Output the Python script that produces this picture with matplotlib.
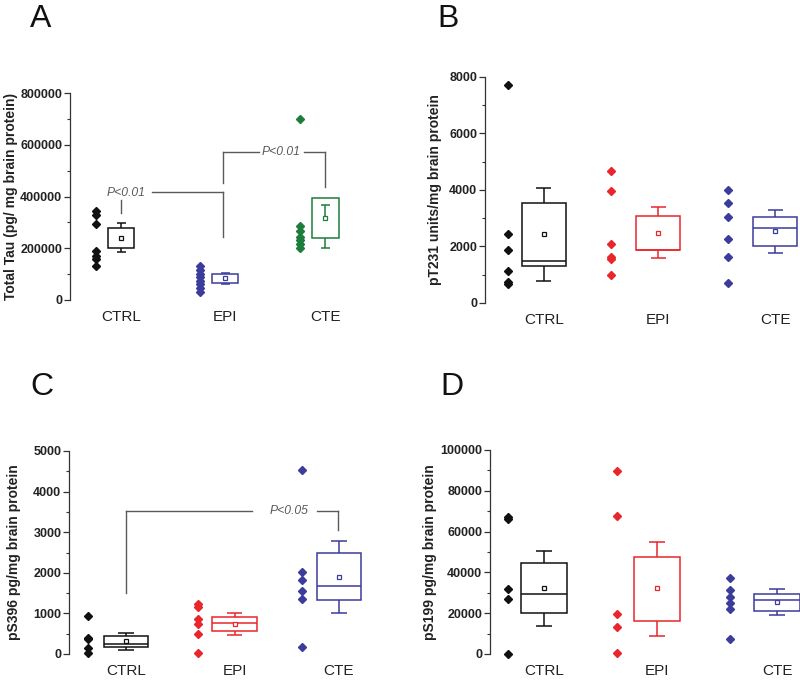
import numpy as np
import matplotlib
matplotlib.use('Agg')
import matplotlib.pyplot as plt
from matplotlib.ticker import MultipleLocator

plt.rcParams['font.family'] = ['Liberation Sans', 'DejaVu Sans']

groups = ['CTRL', 'EPI', 'CTE']

# panel A - total tau
a_points = [
    [345000, 330000, 295000, 190000, 170000, 160000, 130000],
    [130000, 115000, 100000, 88000, 75000, 60000, 45000, 32000],
    [700000, 285000, 265000, 245000, 230000, 215000, 200000],
]
a_q1 = [201000, 66000, 240000]
a_q3 = [278000, 100000, 395000]
a_med = [None, None, None]
a_wlo = [185000, 63000, 200000]
a_whi = [298000, 105000, 368000]
a_mean = [240000, 85000, 318000]

# panel B - pT231
b_points = [
    [7700, 2450, 1880, 1130, 760, 680],
    [4680, 3980, 2100, 1620, 1560, 1000],
    [4000, 3540, 3050, 2270, 1630, 720],
]
b_q1 = [1310, 1880, 2020]
b_q3 = [3540, 3080, 3050]
b_med = [1490, 1890, 2650]
b_wlo = [780, 1590, 1770]
b_whi = [4070, 3400, 3290]
b_mean = [2440, 2480, 2550]

# panel C - pS396
c_points = [
    [940, 400, 370, 150, 30],
    [1230, 1160, 850, 730, 500, 30],
    [4530, 2020, 1820, 1550, 1360, 180],
]
c_q1 = [170, 570, 1330]
c_q3 = [440, 910, 2490]
c_med = [250, 760, 1670]
c_wlo = [100, 470, 1010]
c_whi = [520, 1010, 2780]
c_mean = [320, 740, 1900]

# panel D - pS199
d_points = [
    [67000, 66400, 32000, 27000, 200],
    [89800, 67800, 19500, 13300, 300],
    [37200, 31500, 28000, 25000, 22000, 7300],
]
d_q1 = [20100, 16200, 21100]
d_q3 = [44600, 47500, 29400]
d_med = [29400, None, 26500]
d_wlo = [13700, 8800, 19100]
d_whi = [50500, 54900, 31900]
d_mean = [32300, 32300, 25500]

black = '#111111'
navy = '#3c3c9c'
green = '#1d7d3b'
red = '#e8262b'
gray = '#5a5a5a'

fig = plt.figure(figsize=(8, 6.84), dpi=100)
W, H = 800, 684


def make_ax(left, top, right, bottom):
    return fig.add_axes([left / W, 1 - bottom / H, (right - left) / W, (bottom - top) / H])


def panel(ax, points, q1, q3, med, wlo, whi, mean, colors, box_x, pt_x, width,
          ymax, major, ylabel, xlim, label_x):
    for i in range(3):
        c = colors[i]
        ax.plot([pt_x[i]] * len(points[i]), points[i], 'D', color=c, ms=3.8,
                clip_on=False, zorder=3)
        x = box_x[i]
        ax.bar(x, q3[i] - q1[i], bottom=q1[i], width=width, fill=False,
               edgecolor=c, linewidth=1.1)
        if med[i] is not None:
            ax.hlines(med[i], x - width / 2, x + width / 2, color=c, lw=1.1)
        top_start = q3[i] if whi[i] > q3[i] else mean[i]
        ax.vlines(x, top_start, whi[i], color=c, lw=1.1)
        ax.vlines(x, wlo[i], q1[i], color=c, lw=1.1)
        ax.hlines([whi[i], wlo[i]], x - width * 0.17, x + width * 0.17, color=c, lw=1.1)
        ax.plot(x, mean[i], 's', mfc='white', mec=c, ms=3.3, mew=0.9, zorder=4)

    ax.set_xlim(*xlim)
    ax.set_ylim(0, ymax)
    ax.yaxis.set_major_locator(MultipleLocator(major))
    ax.yaxis.set_minor_locator(MultipleLocator(major / 2))
    for s in ['top', 'right', 'bottom']:
        ax.spines[s].set_visible(False)
    ax.spines['left'].set_color('#333333')
    ax.spines['left'].set_linewidth(0.9)
    ax.tick_params(axis='y', which='major', length=4, width=0.9, color='#333333',
                   labelsize=9, pad=1.5)
    ax.tick_params(axis='y', which='minor', length=2.5, width=0.8, color='#333333')
    for t in ax.get_yticklabels():
        t.set_fontweight('bold')
        t.set_color('#222222')
    ax.set_xticks(box_x)
    ax.set_xticklabels(groups, fontsize=11, color='#222222')
    ax.tick_params(axis='x', length=0, pad=7)
    ax.set_ylabel(ylabel, fontsize=10, fontweight='bold', color='#222222')
    ax.yaxis.set_label_coords(label_x, 0.5)


def bracket(ax, x1, y1, x2, y2, ybar, text, tx, gap_l, gap_r):
    kw = dict(color=gray, lw=1.0)
    ax.plot([x1, x1], [y1, ybar], **kw)
    ax.plot([x1, gap_l], [ybar, ybar], **kw)
    ax.plot([gap_r, x2], [ybar, ybar], **kw)
    ax.plot([x2, x2], [ybar, y2], **kw)
    ax.text(tx, ybar, text, fontsize=8.7, style='italic', color=gray,
            ha='center', va='center')


# A
axA = make_ax(70, 93, 360, 300)
panel(axA, a_points, a_q1, a_q3, a_med, a_wlo, a_whi, a_mean, [black, navy, green],
      [1, 2.02, 3], [0.75, 1.77, 2.75], 0.26, 800000, 200000,
      'Total Tau (pg/ mg brain protein)', (0.5, 3.34), -0.18)
axA.plot([1.0, 1.0], [336000, 387000], color=gray, lw=1.0)
axA.text(1.05, 413000, 'P<0.01', fontsize=8.7, style='italic', color=gray,
         ha='center', va='center')
axA.plot([1.30, 2.0], [417000, 417000], color=gray, lw=1.0)
axA.plot([2.0, 2.0], [417000, 244000], color=gray, lw=1.0)
bracket(axA, 2.0, 452000, 3.0, 437000, 572000, 'P<0.01', 2.57, 2.35, 2.79)

# B
axB = make_ax(485, 77, 800, 303)
panel(axB, b_points, b_q1, b_q3, b_med, b_wlo, b_whi, b_mean, [black, red, navy],
      [1, 1.99, 3], [0.69, 1.58, 2.59], 0.38, 8000, 2000,
      'pT231 units/mg brain protein', (0.49, 3.216), -0.137)

# C
axC = make_ax(69, 451, 372, 654)
panel(axC, c_points, c_q1, c_q3, c_med, c_wlo, c_whi, c_mean, [black, red, navy],
      [1, 2.02, 3], [0.643, 1.676, 2.653], 0.42, 5000, 1000,
      'pS396 pg/mg brain protein', (0.465, 3.31), -0.16)
bracket(axC, 1.0, 1500, 2.99, 3050, 3520, 'P<0.05', 2.53, 2.18, 2.79)

# D
axD = make_ax(490, 450, 800, 654)
panel(axD, d_points, d_q1, d_q3, d_med, d_wlo, d_whi, d_mean, [black, red, navy],
      [1, 1.97, 3], [0.69, 1.627, 2.597], 0.39, 100000, 20000,
      'pS199 pg/mg brain protein', (0.536, 3.197), -0.17)

for letter, x, y in [('A', 30, 27), ('B', 437, 27), ('C', 30, 395), ('D', 440, 395)]:
    fig.text(x / W, 1 - y / H, letter, fontsize=23, va='baseline', ha='left',
             color='#111111')

fig.savefig('out.png', dpi=100)
